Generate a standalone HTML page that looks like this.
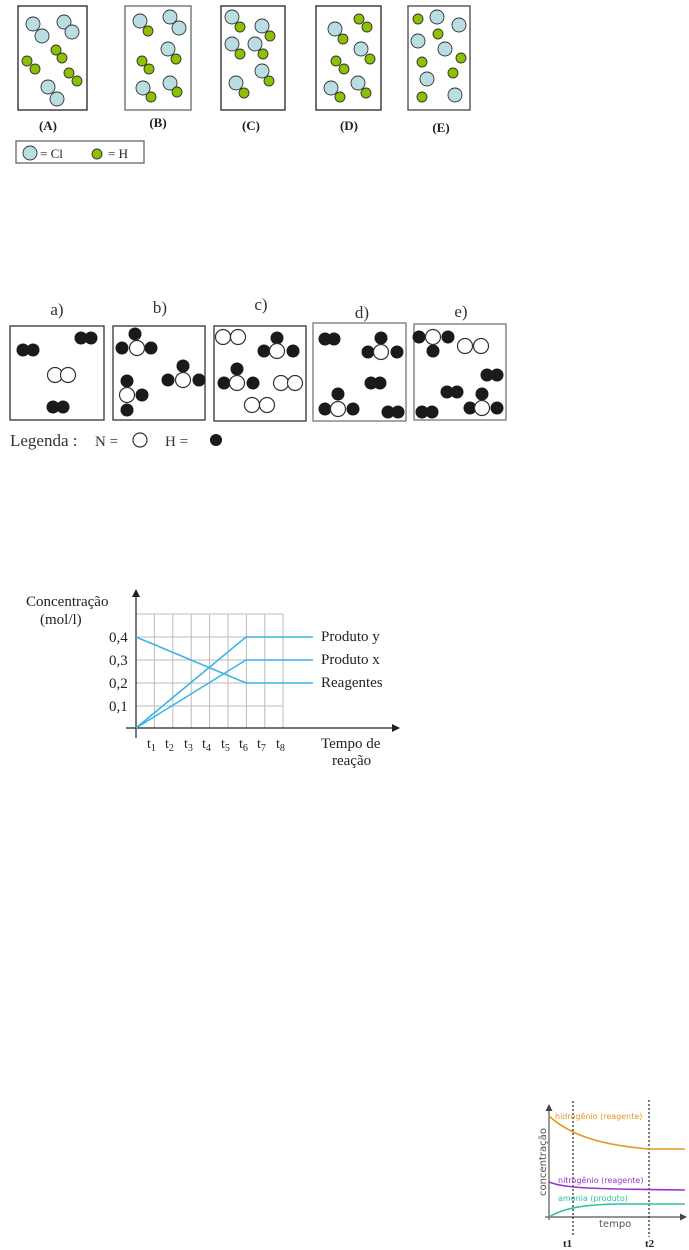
<!DOCTYPE html>
<html><head><meta charset="utf-8"><style>
html,body{margin:0;padding:0;background:#fff;}
svg{display:block;}
</style></head><body>
<svg width="689" height="1250" viewBox="0 0 689 1250" xmlns="http://www.w3.org/2000/svg">
<defs>
<marker id="ar" markerWidth="8" markerHeight="8" refX="7" refY="4" orient="auto" markerUnits="userSpaceOnUse"><path d="M0,0 L8,4 L0,8 z" fill="#222"/></marker>
<marker id="ar2" markerWidth="7" markerHeight="7" refX="6" refY="3.5" orient="auto" markerUnits="userSpaceOnUse"><path d="M0,0 L7,3.5 L0,7 z" fill="#444"/></marker>
</defs>
<!-- Panel 1 -->
<g fill="none" stroke="#222" stroke-width="1.3">
<rect x="18" y="6" width="69" height="104"/>
<rect x="125" y="6" width="66" height="104" stroke="#666"/>
<rect x="221" y="6" width="64" height="104"/>
<rect x="316" y="6" width="65" height="104"/>
<rect x="408" y="6" width="62" height="104" stroke="#444"/>
<rect x="16" y="141" width="128" height="22" stroke="#666"/>
</g>
<g stroke="#333" stroke-width="0.9">
<g fill="#b9dde2">
<circle cx="33" cy="24" r="7"/><circle cx="42" cy="36" r="7"/><circle cx="64" cy="22" r="7"/><circle cx="72" cy="32" r="7"/><circle cx="48" cy="87" r="7"/><circle cx="57" cy="99" r="7"/>
<circle cx="140" cy="21" r="7"/><circle cx="170" cy="17" r="7"/><circle cx="179" cy="28" r="7"/><circle cx="168" cy="49" r="7"/><circle cx="143" cy="88" r="7"/><circle cx="170" cy="83" r="7"/>
<circle cx="232" cy="17" r="7"/><circle cx="262" cy="26" r="7"/><circle cx="232" cy="44" r="7"/><circle cx="255" cy="44" r="7"/><circle cx="262" cy="71" r="7"/><circle cx="236" cy="83" r="7"/>
<circle cx="335" cy="29" r="7"/><circle cx="361" cy="49" r="7"/><circle cx="331" cy="88" r="7"/><circle cx="358" cy="83" r="7"/>
<circle cx="437" cy="17" r="7"/><circle cx="459" cy="25" r="7"/><circle cx="418" cy="41" r="7"/><circle cx="445" cy="49" r="7"/><circle cx="427" cy="79" r="7"/><circle cx="455" cy="95" r="7"/>
<circle cx="30" cy="153" r="7"/>
</g>
<g fill="#8cc000">
<circle cx="56" cy="50" r="5"/><circle cx="62" cy="58" r="5"/><circle cx="27" cy="61" r="5"/><circle cx="35" cy="69" r="5"/><circle cx="69" cy="73" r="5"/><circle cx="77" cy="81" r="5"/>
<circle cx="148" cy="31" r="5"/><circle cx="176" cy="59" r="5"/><circle cx="142" cy="61" r="5"/><circle cx="149" cy="69" r="5"/><circle cx="151" cy="97" r="5"/><circle cx="177" cy="92" r="5"/>
<circle cx="240" cy="27" r="5"/><circle cx="270" cy="36" r="5"/><circle cx="240" cy="54" r="5"/><circle cx="263" cy="54" r="5"/><circle cx="269" cy="81" r="5"/><circle cx="244" cy="93" r="5"/>
<circle cx="343" cy="39" r="5"/><circle cx="359" cy="19" r="5"/><circle cx="367" cy="27" r="5"/><circle cx="370" cy="59" r="5"/><circle cx="336" cy="61" r="5"/><circle cx="344" cy="69" r="5"/><circle cx="340" cy="97" r="5"/><circle cx="366" cy="93" r="5"/>
<circle cx="418" cy="19" r="5"/><circle cx="438" cy="34" r="5"/><circle cx="461" cy="58" r="5"/><circle cx="422" cy="62" r="5"/><circle cx="453" cy="73" r="5"/><circle cx="422" cy="97" r="5"/>
<circle cx="97" cy="154" r="5"/>
</g>
</g>
<g font-family="Liberation Serif, serif" font-weight="bold" font-size="13" fill="#222" text-anchor="middle">
<text x="48" y="130">(A)</text><text x="158" y="127">(B)</text><text x="251" y="130">(C)</text><text x="349" y="130">(D)</text><text x="441" y="132">(E)</text>
</g>
<g font-family="Liberation Serif, serif" font-size="13" fill="#222">
<text x="40" y="158">= Cl</text><text x="108" y="158">= H</text>
</g>
<!-- Panel 2 -->
<g fill="none" stroke="#333" stroke-width="1.3">
<rect x="10" y="326" width="94" height="94"/>
<rect x="113" y="326" width="92" height="94"/>
<rect x="214" y="326" width="92" height="95"/>
<rect x="313" y="323" width="93" height="98" stroke="#777"/>
<rect x="414" y="324" width="92" height="96" stroke="#777"/>
</g>
<g fill="#fff" stroke="#333" stroke-width="1.2">
<circle cx="55" cy="375" r="7.5"/><circle cx="68" cy="375" r="7.5"/>
<circle cx="223" cy="337" r="7.5"/><circle cx="238" cy="337" r="7.5"/>
<circle cx="281" cy="383" r="7.5"/><circle cx="295" cy="383" r="7.5"/>
<circle cx="252" cy="405" r="7.5"/><circle cx="267" cy="405" r="7.5"/>
<circle cx="465" cy="346" r="7.5"/><circle cx="481" cy="346" r="7.5"/>
<circle cx="140" cy="440" r="7"/>
</g>
<g fill="#1a1a1a">
<circle cx="23" cy="350" r="6.5"/><circle cx="33" cy="350" r="6.5"/><circle cx="81" cy="338" r="6.5"/><circle cx="91" cy="338" r="6.5"/><circle cx="53" cy="407" r="6.5"/><circle cx="63" cy="407" r="6.5"/>
<circle cx="325" cy="339" r="6.5"/><circle cx="334" cy="339" r="6.5"/><circle cx="371" cy="383" r="6.5"/><circle cx="380" cy="383" r="6.5"/><circle cx="388" cy="412" r="6.5"/><circle cx="398" cy="412" r="6.5"/>
<circle cx="487" cy="375" r="6.5"/><circle cx="497" cy="375" r="6.5"/><circle cx="447" cy="392" r="6.5"/><circle cx="457" cy="392" r="6.5"/><circle cx="422" cy="412" r="6.5"/><circle cx="432" cy="412" r="6.5"/>
<circle cx="216" cy="440" r="6"/>
</g>
<!-- NH3 molecules: H first, then N on top -->
<g fill="#1a1a1a">
<circle cx="135" cy="334" r="6.5"/><circle cx="122" cy="348" r="6.5"/><circle cx="151" cy="348" r="6.5"/>
<circle cx="183" cy="366" r="6.5"/><circle cx="168" cy="380" r="6.5"/><circle cx="199" cy="380" r="6.5"/>
<circle cx="127" cy="381" r="6.5"/><circle cx="142" cy="395" r="6.5"/><circle cx="127" cy="410" r="6.5"/>
<circle cx="277" cy="338" r="6.5"/><circle cx="264" cy="351" r="6.5"/><circle cx="293" cy="351" r="6.5"/>
<circle cx="237" cy="369" r="6.5"/><circle cx="224" cy="383" r="6.5"/><circle cx="253" cy="383" r="6.5"/>
<circle cx="381" cy="338" r="6.5"/><circle cx="368" cy="352" r="6.5"/><circle cx="397" cy="352" r="6.5"/>
<circle cx="338" cy="394" r="6.5"/><circle cx="325" cy="409" r="6.5"/><circle cx="353" cy="409" r="6.5"/>
<circle cx="419" cy="337" r="6.5"/><circle cx="448" cy="337" r="6.5"/><circle cx="433" cy="351" r="6.5"/>
<circle cx="482" cy="394" r="6.5"/><circle cx="470" cy="408" r="6.5"/><circle cx="497" cy="408" r="6.5"/>
</g>
<g fill="#fff" stroke="#333" stroke-width="1.2">
<circle cx="137" cy="348" r="7.5"/><circle cx="183" cy="380" r="7.5"/><circle cx="127" cy="395" r="7.5"/>
<circle cx="277" cy="351" r="7.5"/><circle cx="237" cy="383" r="7.5"/>
<circle cx="381" cy="352" r="7.5"/><circle cx="338" cy="409" r="7.5"/>
<circle cx="433" cy="337" r="7.5"/><circle cx="482" cy="408" r="7.5"/>
</g>
<g font-family="Liberation Serif, serif" font-size="17" fill="#333" text-anchor="middle">
<text x="57" y="315">a)</text><text x="160" y="313">b)</text><text x="261" y="310">c)</text><text x="362" y="318">d)</text><text x="461" y="317">e)</text>
</g>
<g font-family="Liberation Serif, serif" font-size="17" fill="#333">
<text x="10" y="446">Legenda : </text><text x="95" y="446" font-size="15">N =</text><text x="165" y="446" font-size="15">H =</text>
</g>
<!-- Graph -->
<g stroke="#bbb" stroke-width="1">
<line x1="154.4" y1="614" x2="154.4" y2="728"/><line x1="172.8" y1="614" x2="172.8" y2="728"/><line x1="191.2" y1="614" x2="191.2" y2="728"/><line x1="209.6" y1="614" x2="209.6" y2="728"/><line x1="228" y1="614" x2="228" y2="728"/><line x1="246.4" y1="614" x2="246.4" y2="728"/><line x1="264.8" y1="614" x2="264.8" y2="728"/><line x1="283" y1="614" x2="283" y2="728"/>
<line x1="136" y1="614" x2="283" y2="614"/><line x1="136" y1="637" x2="283" y2="637"/><line x1="136" y1="660" x2="283" y2="660"/><line x1="136" y1="683" x2="283" y2="683"/><line x1="136" y1="706" x2="283" y2="706"/>
</g>
<line x1="136" y1="738" x2="136" y2="590" stroke="#222" stroke-width="1.2" marker-end="url(#ar)"/>
<line x1="126" y1="728" x2="399" y2="728" stroke="#222" stroke-width="1.2" marker-end="url(#ar)"/>
<g fill="none" stroke="#3bb4e8" stroke-width="1.6">
<polyline points="136,637 246,683 313,683"/>
<polyline points="136,728 246,637 313,637"/>
<polyline points="136,728 246,660 313,660"/>
</g>
<g font-family="Liberation Serif, serif" font-size="15" fill="#222">
<text x="26" y="606">Concentração</text><text x="40" y="624">(mol/l)</text>
<text x="109" y="642">0,4</text><text x="109" y="665">0,3</text><text x="109" y="688">0,2</text><text x="109" y="711">0,1</text>
<text x="321" y="641">Produto y</text><text x="321" y="664">Produto x</text><text x="321" y="687">Reagentes</text>
<text x="321" y="748">Tempo de</text><text x="332" y="765">reação</text>
</g>
<g font-family="Liberation Serif, serif" font-size="14" fill="#222">
<text x="147" y="748">t<tspan font-size="10" dy="3">1</tspan></text>
<text x="165" y="748">t<tspan font-size="10" dy="3">2</tspan></text>
<text x="184" y="748">t<tspan font-size="10" dy="3">3</tspan></text>
<text x="202" y="748">t<tspan font-size="10" dy="3">4</tspan></text>
<text x="221" y="748">t<tspan font-size="10" dy="3">5</tspan></text>
<text x="239" y="748">t<tspan font-size="10" dy="3">6</tspan></text>
<text x="257" y="748">t<tspan font-size="10" dy="3">7</tspan></text>
<text x="276" y="748">t<tspan font-size="10" dy="3">8</tspan></text>
</g>
<!-- Bottom right graph -->
<line x1="549" y1="1220" x2="549" y2="1105" stroke="#555" stroke-width="1.2" marker-end="url(#ar2)"/>
<line x1="545" y1="1217" x2="686" y2="1217" stroke="#555" stroke-width="1.2" marker-end="url(#ar2)"/>
<g stroke="#222" stroke-width="1.2" stroke-dasharray="2,2">
<line x1="573" y1="1101" x2="573" y2="1237"/><line x1="649" y1="1100" x2="649" y2="1237"/>
</g>
<g fill="none" stroke-width="1.6">
<path d="M549,1116 C570,1135 600,1145 649,1149 L685,1149" stroke="#e8961e"/>
<path d="M549,1182 C565,1188 585,1189 685,1190" stroke="#9a33c8"/>
<path d="M549,1217 C565,1207 590,1204 625,1204 L685,1204" stroke="#2ebfa0"/>
</g>
<g font-family="DejaVu Sans, sans-serif" font-size="8">
<text x="555" y="1119" fill="#e8961e">hidrogênio (reagente)</text>
<text x="558" y="1183" fill="#9a33c8">nitrogênio (reagente)</text>
<text x="558" y="1201" fill="#2ebfa0">amonia (produto)</text>
<text x="599" y="1227" fill="#555" font-size="10">tempo</text>
<text transform="translate(546,1196) rotate(-90)" fill="#555" font-size="10">concentração</text>
</g>
<g font-family="Liberation Serif, serif" font-weight="bold" font-size="11" fill="#222">
<text x="563" y="1247">t1</text><text x="645" y="1247">t2</text>
</g>
</svg>
</body></html>
